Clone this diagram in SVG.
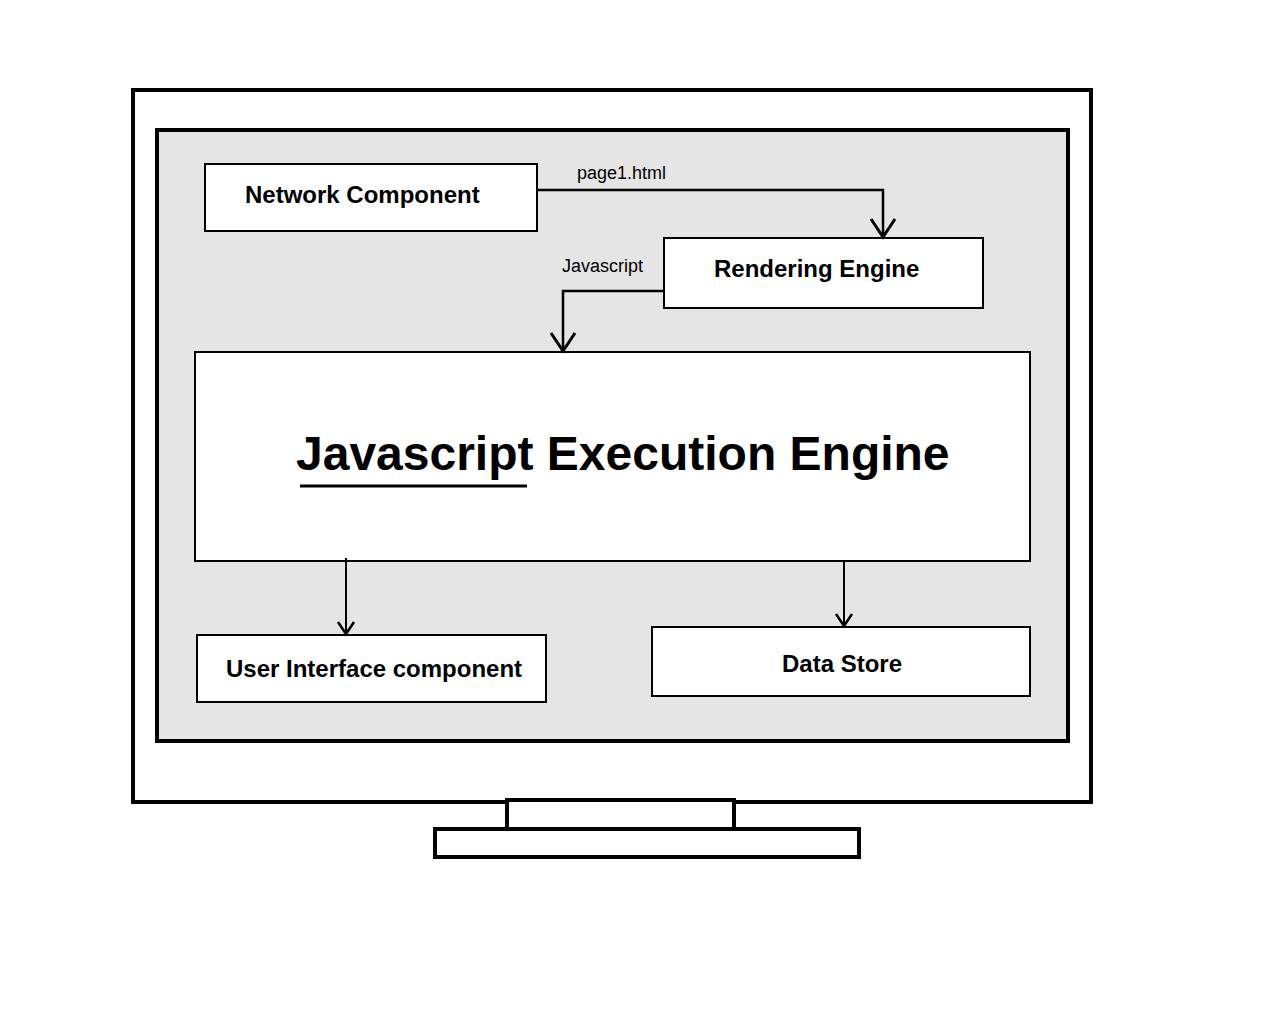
<svg xmlns="http://www.w3.org/2000/svg" width="1280" height="1024" viewBox="0 0 1280 1024">
<style>
.frame{fill:#fff;stroke:#000;stroke-width:4}
.screen{fill:#e5e5e5;stroke:#000;stroke-width:4}
.box{fill:#fff;stroke:#000;stroke-width:2}
.lbl{font-family:"Liberation Sans",Arial,sans-serif;font-weight:bold;font-size:24px;fill:#000}
.big{font-family:"Liberation Sans",Arial,sans-serif;font-weight:bold;font-size:48px;fill:#000}
.edge{font-family:"Liberation Sans",Arial,sans-serif;font-size:18px;fill:#000}
.conn{fill:none;stroke:#000;stroke-width:2}
.conn2{fill:none;stroke:#000;stroke-width:2.5}
</style>
<defs>
<marker id="arrL" markerWidth="30" markerHeight="30" refX="20" refY="15" orient="auto" markerUnits="userSpaceOnUse">
<path d="M2,3 L20,15 L2,27" fill="none" stroke="#000" stroke-width="3"/>
</marker>
<marker id="arr" markerWidth="20" markerHeight="22" refX="13" refY="11" orient="auto" markerUnits="userSpaceOnUse">
<path d="M1,3 L13,11 L1,19" fill="none" stroke="#000" stroke-width="2.5"/>
</marker>
</defs>
<rect width="1280" height="1024" fill="#fff"/>
<g id="monitor">
<rect class="frame" x="133" y="90" width="958" height="712"/>
<rect class="screen" x="157" y="130" width="911" height="611"/>
<rect class="frame" x="507" y="800" width="227" height="29" stroke-width="3.5"/>
<rect class="frame" x="435" y="829" width="424" height="28" stroke-width="3.5"/>
</g>
<g id="network">
<rect class="box" x="205" y="164" width="332" height="67"/>
<text class="lbl" x="245" y="203">Network Component</text>
</g>
<g id="rendering">
<rect class="box" x="664" y="238" width="319" height="70"/>
<text class="lbl" x="714" y="277">Rendering Engine</text>
</g>
<g id="jsengine">
<rect class="box" x="195" y="352" width="835" height="209"/>
<text class="big" x="296" y="470">Javascript Execution Engine</text>
<line x1="300" y1="486" x2="527" y2="486" stroke="#000" stroke-width="3"/>
</g>
<g id="ui">
<rect class="box" x="197" y="635" width="349" height="67"/>
<text class="lbl" x="226" y="677">User Interface component</text>
</g>
<g id="datastore">
<rect class="box" x="652" y="627" width="378" height="69"/>
<text class="lbl" x="842" y="672" text-anchor="middle">Data Store</text>
</g>
<g id="connectors">
<path class="conn2" d="M537,190 H883 V237" marker-end="url(#arrL)"/>
<text class="edge" x="577" y="179">page1.html</text>
<path class="conn2" d="M664,291 H563 V351" marker-end="url(#arrL)"/>
<text class="edge" x="562" y="272">Javascript</text>
<path class="conn" d="M346,558 V634" marker-end="url(#arr)"/>
<path class="conn" d="M844,561 V626" marker-end="url(#arr)"/>
</g>
</svg>
